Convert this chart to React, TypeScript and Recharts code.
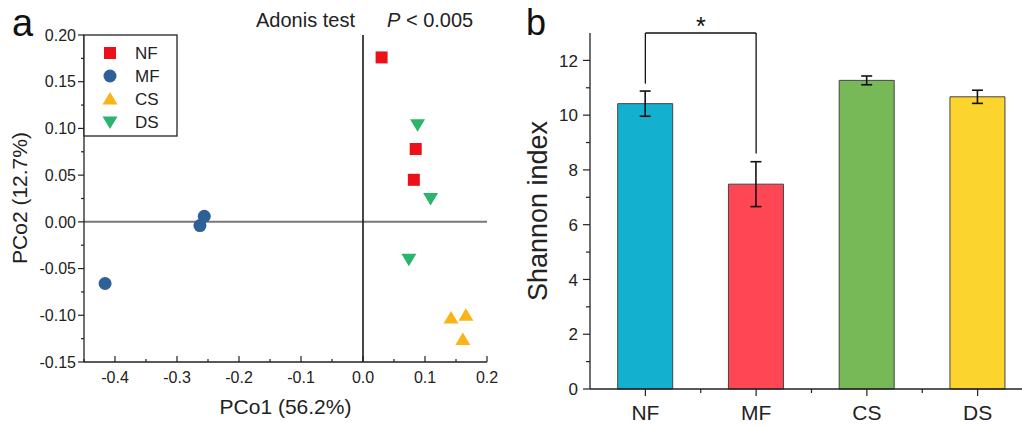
import {
  Bar,
  BarChart,
  Cell,
  ErrorBar,
  ReferenceLine,
  Scatter,
  ScatterChart,
  XAxis,
  YAxis,
} from 'recharts'

const FONT = '"Liberation Sans", Arial, sans-serif'
const INK = '#222'

// panel a: PCoA scores
const NF_POINTS = [
  { x: 0.03, y: 0.176 },
  { x: 0.085, y: 0.078 },
  { x: 0.082, y: 0.045 },
]
const MF_POINTS = [
  { x: -0.416, y: -0.066 },
  { x: -0.263, y: -0.004 },
  { x: -0.256, y: 0.006 },
]
const CS_POINTS = [
  { x: 0.142, y: -0.103 },
  { x: 0.166, y: -0.1 },
  { x: 0.161, y: -0.126 },
]
const DS_POINTS = [
  { x: 0.088, y: 0.104 },
  { x: 0.109, y: 0.025 },
  { x: 0.074, y: -0.04 },
]
const PCO1_TICKS = [
  -0.45, -0.4, -0.35, -0.3, -0.25, -0.2, -0.15, -0.1, -0.05, 0, 0.05, 0.1, 0.15, 0.2,
]
const PCO2_TICKS = [
  -0.15, -0.125, -0.1, -0.075, -0.05, -0.025, 0, 0.025, 0.05, 0.075, 0.1, 0.125, 0.15, 0.175, 0.2,
]

// panel b: Shannon index
const GROUPS = ['NF', 'MF', 'CS', 'DS']
const SHANNON = [10.42, 7.48, 11.27, 10.67]
const SHANNON_ERR = [0.46, 0.82, 0.16, 0.24]
const SHANNON_TICKS = [0, 1, 2, 3, 4, 5, 6, 7, 8, 9, 10, 11, 12]
const BAR_COLORS = ['#13b1cf', '#ff4654', '#77b857', '#fcd42e']

const SERIES = [
  { name: 'NF', kind: 'square', color: '#ec1119', data: NF_POINTS },
  { name: 'MF', kind: 'circle', color: '#2e5f96', data: MF_POINTS },
  { name: 'CS', kind: 'up', color: '#f8b418', data: CS_POINTS },
  { name: 'DS', kind: 'down', color: '#2bb46b', data: DS_POINTS },
]

const barData = GROUPS.map((g, i) => ({ name: g, value: SHANNON[i], err: SHANNON_ERR[i] }))

const isMajor = (v: number, step: number) => Math.abs(v / step - Math.round(v / step)) < 1e-6

function marker(kind: string, cx: number, cy: number, color: string) {
  if (kind === 'square') return <rect x={cx - 6} y={cy - 6} width={12} height={12} fill={color} />
  if (kind === 'circle') return <circle cx={cx} cy={cy} r={6.5} fill={color} />
  if (kind === 'up')
    return <polygon points={`${cx},${cy - 7} ${cx + 7.5},${cy + 5.5} ${cx - 7.5},${cy + 5.5}`} fill={color} />
  return <polygon points={`${cx},${cy + 7} ${cx + 7.5},${cy - 5.5} ${cx - 7.5},${cy - 5.5}`} fill={color} />
}

const BottomTickA = (props: any) => {
  const { x, y, payload } = props
  const major = isMajor(payload.value, 0.1)
  return (
    <g>
      <line x1={x} x2={x} y1={y} y2={y - (major ? 6 : 3)} stroke={INK} strokeWidth={1.2} />
      {major && (
        <text x={x} y={y + 21} textAnchor="middle" fontSize={16} fill={INK} fontFamily={FONT}>
          {payload.value.toFixed(1)}
        </text>
      )}
    </g>
  )
}

const TopTickA = (props: any) => {
  const { x, y, payload } = props
  const major = isMajor(payload.value, 0.1)
  return <line x1={x} x2={x} y1={y} y2={y + (major ? 6 : 3)} stroke={INK} strokeWidth={1.2} />
}

const LeftTickA = (props: any) => {
  const { x, y, payload } = props
  const major = isMajor(payload.value, 0.05)
  return (
    <g>
      <line x1={x} x2={x - (major ? 6 : 3)} y1={y} y2={y} stroke={INK} strokeWidth={1.2} />
      {major && (
        <text x={x - 8} y={y} dy="0.36em" textAnchor="end" fontSize={16} fill={INK} fontFamily={FONT}>
          {payload.value.toFixed(2)}
        </text>
      )}
    </g>
  )
}

const RightTickA = (props: any) => {
  const { x, y, payload } = props
  const major = isMajor(payload.value, 0.05)
  return <line x1={x} x2={x - (major ? 6 : 3)} y1={y} y2={y} stroke={INK} strokeWidth={1.2} />
}

const LeftTickB = (props: any) => {
  const { x, y, payload } = props
  const major = isMajor(payload.value, 2)
  return (
    <g>
      <line x1={x} x2={x - (major ? 7 : 4)} y1={y} y2={y} stroke={INK} strokeWidth={1.2} />
      {major && (
        <text x={x - 12} y={y} dy="0.36em" textAnchor="end" fontSize={17} fill={INK} fontFamily={FONT}>
          {payload.value}
        </text>
      )}
    </g>
  )
}

const BottomTickB = (props: any) => {
  const { x, y, payload } = props
  const half = payload.offset || 55
  return (
    <g>
      <line x1={x} x2={x} y1={y} y2={y + 7} stroke={INK} strokeWidth={1.2} />
      <line x1={x + half} x2={x + half} y1={y} y2={y + 4} stroke={INK} strokeWidth={1.2} />
      <text x={x} y={y + 31} textAnchor="middle" fontSize={21} fill={INK} fontFamily={FONT}>
        {payload.value}
      </text>
    </g>
  )
}

export default function App() {
  return (
    <div
      style={{
        position: 'fixed',
        left: 0,
        top: 0,
        width: 1022,
        height: 426,
        overflow: 'hidden',
        background: '#fff',
        fontFamily: FONT,
      }}
    >
      <div style={{ position: 'absolute', left: 0, top: 0 }}>
        <ScatterChart width={520} height={426} margin={{ top: 35, right: 33, bottom: 0, left: 0 }}>
          <XAxis
            xAxisId="b"
            type="number"
            dataKey="x"
            domain={[-0.45, 0.2]}
            ticks={PCO1_TICKS}
            interval={0}
            height={64}
            tickSize={0}
            tickMargin={0}
            tickLine={false}
            tick={BottomTickA}
            axisLine={{ stroke: INK, strokeWidth: 1.3 }}
          />
          <XAxis
            xAxisId="t"
            orientation="top"
            type="number"
            domain={[-0.45, 0.2]}
            ticks={PCO1_TICKS}
            interval={0}
            height={0}
            tickSize={0}
            tickMargin={0}
            tickLine={false}
            tick={TopTickA}
            axisLine={{ stroke: INK, strokeWidth: 1.3 }}
          />
          <YAxis
            yAxisId="l"
            type="number"
            dataKey="y"
            domain={[-0.15, 0.2]}
            ticks={PCO2_TICKS}
            interval={0}
            width={84}
            tickSize={0}
            tickMargin={0}
            tickLine={false}
            tick={LeftTickA}
            axisLine={{ stroke: INK, strokeWidth: 1.3 }}
          />
          <YAxis
            yAxisId="r"
            orientation="right"
            type="number"
            domain={[-0.15, 0.2]}
            ticks={PCO2_TICKS}
            interval={0}
            width={0}
            tickSize={0}
            tickMargin={0}
            tickLine={false}
            tick={RightTickA}
            axisLine={{ stroke: INK, strokeWidth: 1.3 }}
          />
          <ReferenceLine xAxisId="b" yAxisId="l" y={0} stroke="#777" strokeWidth={2} />
          <ReferenceLine xAxisId="b" yAxisId="l" x={0} stroke="#1a1a1a" strokeWidth={1.6} />
          {SERIES.map((s) => (
            <Scatter
              key={s.name}
              name={s.name}
              xAxisId="b"
              yAxisId="l"
              data={s.data}
              isAnimationActive={false}
              shape={(p: any) => marker(s.kind, p.cx, p.cy, s.color)}
            />
          ))}
        </ScatterChart>
      </div>

      <div style={{ position: 'absolute', left: 520, top: 0 }}>
        <BarChart
          width={520}
          height={426}
          data={barData}
          margin={{ top: 33, right: 7, bottom: 0, left: 0 }}
          barCategoryGap="25%"
        >
          <XAxis
            dataKey="name"
            height={37}
            interval={0}
            tickSize={0}
            tickMargin={0}
            tickLine={false}
            tick={BottomTickB}
            axisLine={{ stroke: INK, strokeWidth: 1.3 }}
          />
          <YAxis
            type="number"
            domain={[0, 13]}
            ticks={SHANNON_TICKS}
            interval={0}
            width={70}
            tickSize={0}
            tickMargin={0}
            tickLine={false}
            tick={LeftTickB}
            axisLine={{ stroke: INK, strokeWidth: 1.3 }}
          />
          <Bar dataKey="value" isAnimationActive={false} stroke="#444" strokeWidth={1}>
            {barData.map((d, i) => (
              <Cell key={d.name} fill={BAR_COLORS[i]} />
            ))}
            <ErrorBar dataKey="err" width={5.5} stroke="#111" strokeWidth={1.6} direction="y" />
          </Bar>
          <ReferenceLine
            segment={[
              { x: 'NF', y: 11.15 },
              { x: 'NF', y: 13 },
            ]}
            stroke="#111"
            strokeWidth={1.3}
          />
          <ReferenceLine
            segment={[
              { x: 'NF', y: 13 },
              { x: 'MF', y: 13 },
            ]}
            stroke="#111"
            strokeWidth={1.3}
            label={{ value: '*', position: 'top', offset: -2, fontSize: 25, fill: '#111', fontFamily: FONT }}
          />
          <ReferenceLine
            segment={[
              { x: 'MF', y: 8.6 },
              { x: 'MF', y: 13 },
            ]}
            stroke="#111"
            strokeWidth={1.3}
          />
        </BarChart>
      </div>

      <svg
        width={1022}
        height={426}
        style={{ position: 'absolute', left: 0, top: 0, pointerEvents: 'none' }}
        fontFamily={FONT}
      >
        <text x={12} y={36} fontSize={38} fill="#111">a</text>
        <text x={526} y={35} fontSize={36} fill="#111">b</text>
        <text x={256} y={27} fontSize={20} fill={INK}>Adonis test</text>
        <text x={387} y={27} fontSize={20} fill={INK}>
          <tspan fontStyle="italic">P</tspan> {'< 0.005'}
        </text>
        <text x={285.5} y={414} fontSize={21} textAnchor="middle" fill={INK}>PCo1 (56.2%)</text>
        <text x={27} y={198} fontSize={21} textAnchor="middle" fill={INK} transform="rotate(-90 27 198)">
          PCo2 (12.7%)
        </text>
        <text x={547} y={211} fontSize={27} textAnchor="middle" fill={INK} transform="rotate(-90 547 211)">
          Shannon index
        </text>
        {/* legend box of panel a */}
        <rect x={84} y={35} width={93} height={101} fill="#fff" stroke={INK} strokeWidth={1.3} />
        {SERIES.map((s, i) => (
          <g key={s.name}>
            {marker(s.kind, 110, 53 + i * 23, s.color)}
            <text x={135} y={53 + i * 23} dy="0.36em" fontSize={17} fill={INK}>
              {s.name}
            </text>
          </g>
        ))}
      </svg>
    </div>
  )
}
